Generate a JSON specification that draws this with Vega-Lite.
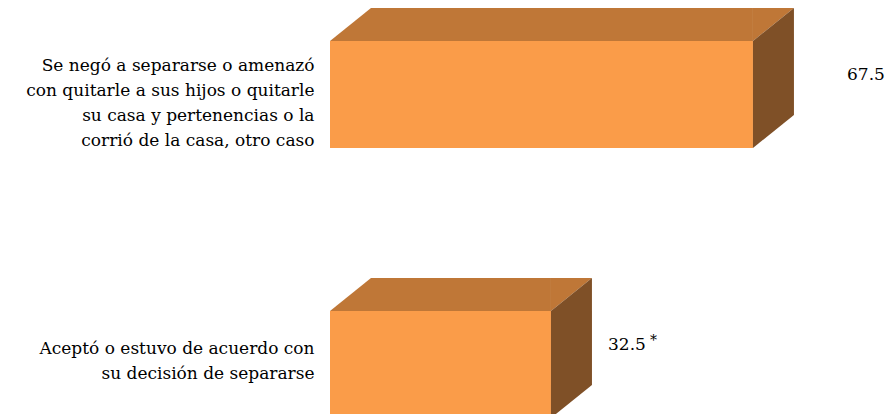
{
  "$schema": "https://vega.github.io/schema/vega-lite/v6.json",
  "width": 555,
  "height": 459,
  "autosize": "none",
  "padding": {"left": 330, "top": 0, "right": 0, "bottom": 0},
  "background": "white",
  "config": {"view": {"stroke": null}},
  "data": {
    "values": [
      {"category": "Se negó a separarse o amenazó\ncon quitarle a sus hijos o quitarle\nsu casa y pertenencias o la\ncorrió de la casa, otro caso", "value": 67.5, "note": ""},
      {"category": "Aceptó o estuvo de acuerdo con\nsu decisión de separarse", "value": 32.5, "note": "*"}
    ]
  },
  "encoding": {
    "y": {
      "field": "category", "type": "nominal", "sort": null,
      "scale": {"paddingInner": 0.6037, "paddingOuter": 0.1519},
      "axis": {
        "title": null, "ticks": false, "domain": false,
        "labelFont": "DejaVu Serif", "labelFontSize": 17, "labelLineHeight": 25,
        "labelColor": "#000000", "labelAlign": "right", "labelBaseline": "middle",
        "labelPadding": 16, "labelLimit": 0,
        "labelExpr": "split(datum.label, '\\n')",
        "labelOffset": {"condition": {"test": "indexof(datum.value, 'Se neg') == 0", "value": -28.5}, "value": -15.5}
      }
    }
  },
  "resolve": {"scale": {"x": "independent"}, "axis": {"x": "independent"}},
  "layer": [
    {
      "encoding": {
        "x": {"field": "value", "type": "quantitative", "scale": {"domain": [-5.787, 90.38], "zero": false, "nice": false}, "axis": null}
      },
      "layer": [
        {
          "mark": {"type": "bar", "color": "#FA9C49"},
          "encoding": {"x2": {"datum": -5.787}}
        },
        {
          "mark": {"type": "bar", "color": "#BF7737", "height": 33, "yOffset": -70, "x2Offset": 41},
          "encoding": {"x2": {"datum": -5.787}}
        },
        {
          "mark": {"type": "point", "shape": "M0,-0.535L0.41,-0.865L0,-0.865Z", "size": 40000, "filled": true, "color": "#BF7737", "opacity": 1, "strokeWidth": 0}
        },
        {
          "mark": {"type": "point", "shape": "M0,-0.535L0.41,-0.865L0.41,0.205L0,0.535Z", "size": 40000, "filled": true, "color": "#7F5027", "opacity": 1, "strokeWidth": 0}
        },
        {
          "mark": {"type": "point", "shape": "M0,-0.535L0.41,-0.535L0.41,-0.865Z", "size": 40000, "filled": true, "color": "#BF7737", "opacity": 1, "strokeWidth": 0},
          "encoding": {"x": {"datum": -5.787, "type": "quantitative"}}
        }
      ]
    },
    {
      "encoding": {
        "x": {"field": "value", "type": "quantitative", "scale": {"domain": [-8.215, 73.06], "zero": false, "nice": false}, "axis": null}
      },
      "layer": [
        {
          "mark": {"type": "text", "align": "left", "baseline": "alphabetic", "dy": -14.5, "font": "DejaVu Serif", "fontSize": 17, "fill": "#000000"},
          "encoding": {"text": {"field": "value", "type": "quantitative", "format": ".1f"}}
        },
        {
          "mark": {"type": "text", "align": "left", "baseline": "alphabetic", "dx": 42, "dy": -19, "font": "DejaVu Serif", "fontSize": 14, "fill": "#000000"},
          "encoding": {"text": {"field": "note", "type": "nominal"}}
        }
      ]
    }
  ]
}
